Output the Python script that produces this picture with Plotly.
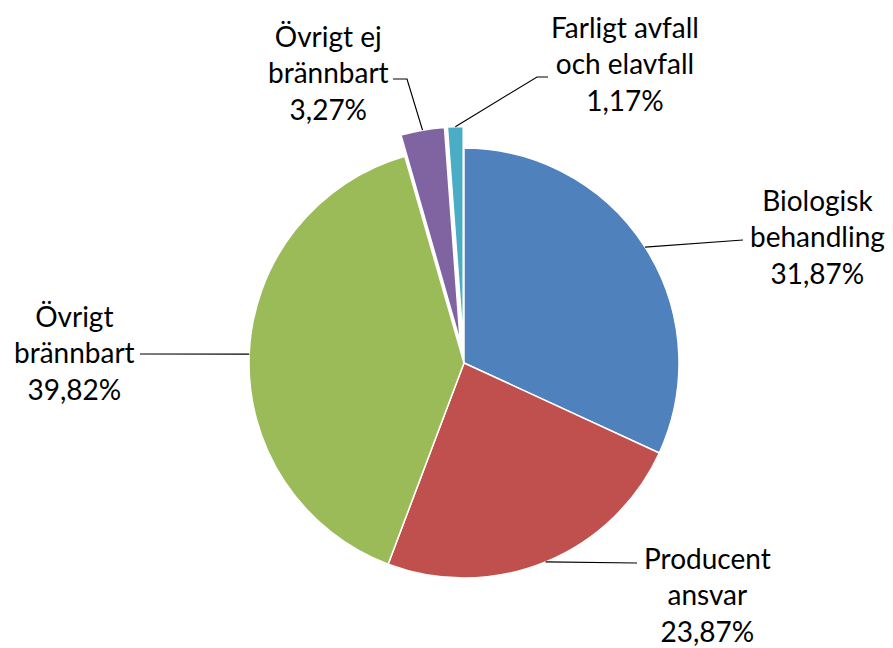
import math
import plotly.graph_objects as go

labels = ["Biologisk behandling", "Producent ansvar", "Övrigt brännbart",
          "Övrigt ej brännbart", "Farligt avfall och elavfall"]
label_text = ["Biologisk<br>behandling<br>31,87%", "Producent<br>ansvar<br>23,87%",
              "Övrigt<br>brännbart<br>39,82%", "Övrigt ej<br>brännbart<br>3,27%",
              "Farligt avfall<br>och elavfall<br>1,17%"]
values = [31.87, 23.87, 39.82, 3.27, 1.17]
pulls = [0, 0, 0, 0.1, 0.1]
colors = ["#4F81BD", "#C0504D", "#9BBB59", "#8064A2", "#4BACC6"]

W, H = 893, 648
OFF = 8  # page body margin compensation
CX, CY, R = 464 - OFF, 363 - OFF, 215
maxpull = max(pulls)
half = R * (1 + maxpull)

# label centres and leader-line elbows (screen pixels)
label_pos = [(817, 236), (707, 594), (74, 352), (328, 72), (625, 64)]
elbows = [[(743, 240)], [(637, 563)], [(140, 354)], [(407, 79), (393, 79)], [(537, 77), (548, 77)]]

def px(x):
    return x / W

def py(y):
    return 1 - y / H

fig = go.Figure(go.Pie(
    labels=labels, values=values, sort=False, direction="clockwise", rotation=0,
    pull=pulls, marker=dict(colors=colors, line=dict(color="white", width=1.5)),
    textinfo="none", hoverinfo="label+percent", showlegend=False,
    domain=dict(x=[px(CX - half), px(CX + half)], y=[py(CY + half), py(CY - half)]),
))

total = sum(values)
cum = 0
shapes = []
annotations = []
for i, v in enumerate(values):
    mid = (cum + v / 2) / total
    cum += v
    ang = 2 * math.pi * mid
    r = R * (1 + pulls[i])
    ex, ey = CX + r * math.sin(ang), CY - r * math.cos(ang)
    pts = [(ex, ey)] + [(x - OFF, y - OFF) for x, y in elbows[i]]
    path = "M " + " L ".join(f"{px(x)},{py(y)}" for x, y in pts)
    shapes.append(dict(type="path", xref="paper", yref="paper", path=path,
                       line=dict(color="black", width=1.2)))
    lx, ly = label_pos[i]
    annotations.append(dict(x=px(lx - OFF), y=py(ly - OFF), xref="paper", yref="paper",
                            text=label_text[i], showarrow=False, align="center",
                            xanchor="center", yanchor="middle", borderpad=0,
                            font=dict(family="Lato", size=28, color="black")))

fig.update_layout(width=W, height=H, margin=dict(l=0, r=0, t=0, b=0),
                  paper_bgcolor="white", plot_bgcolor="white",
                  shapes=shapes, annotations=annotations)
fig.write_html("out.html")
